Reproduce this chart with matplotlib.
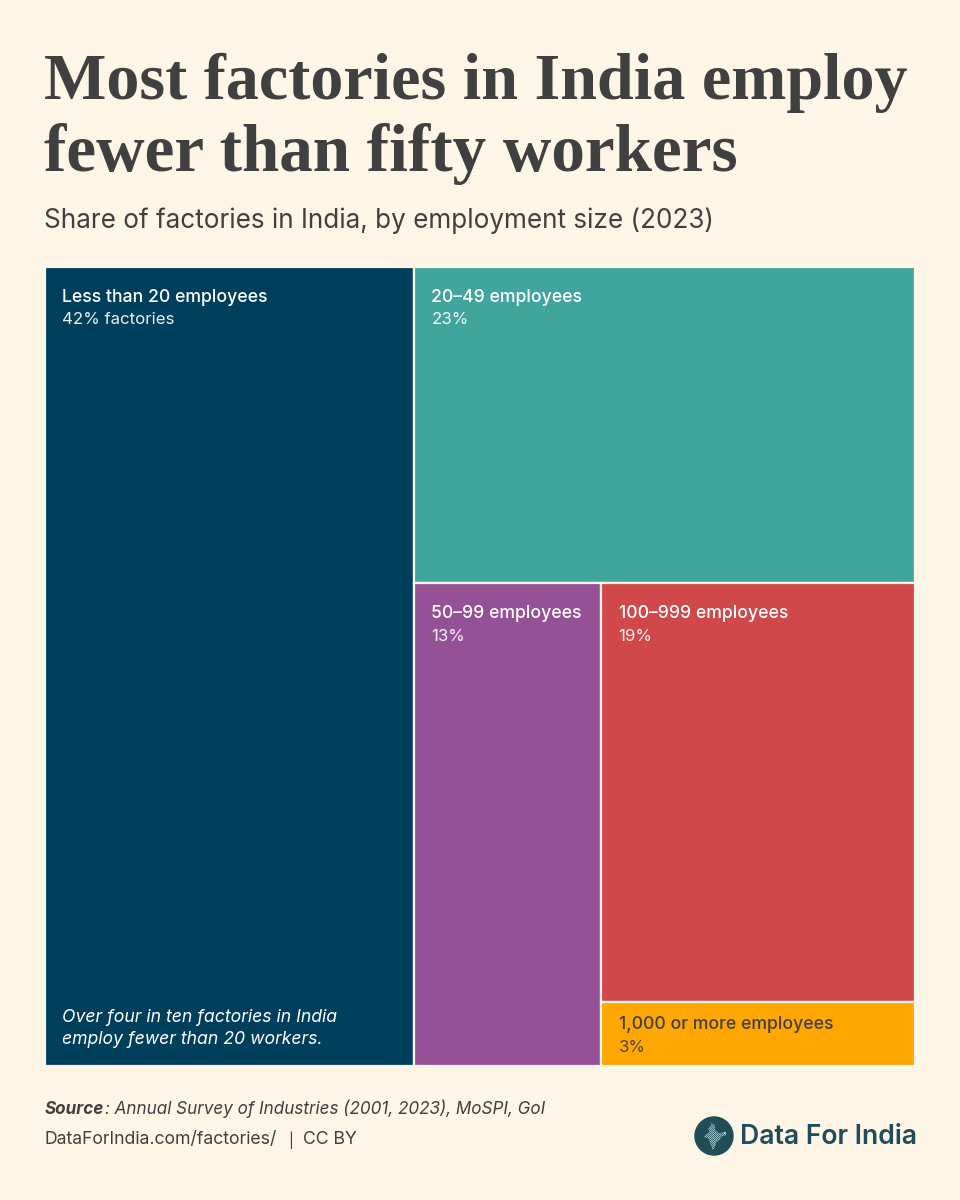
import matplotlib
matplotlib.use('Agg')
import matplotlib.pyplot as plt
from matplotlib.patches import Rectangle, Circle, Polygon

BG = '#fdf5e6'
DARK = '#404040'
LOGO = '#1f4e5a'

# shares, the printed labels are rounded
lt20 = 42.4
s20_49 = 22.8
s50_99 = 13.0
s100_999 = 18.9
s1000 = 2.9

names = ['Less than 20 employees', '20–49 employees', '50–99 employees',
         '100–999 employees', '1,000 or more employees']
shares = ['42% factories', '23%', '13%', '19%', '3%']
colors = ['#003f5c', '#41a49d', '#955196', '#d0484a', '#ffa600']
text_colors = ['white', 'white', 'white', 'white', DARK]

# rough outline of India for the logo, in logo-radius units
india_x = [-.42, -.22, -.3, -.12, -.2, .05, .05, .28, .62, .62, .4, .28, .12, .05, -.05, -.18, -.25, -.32, -.52]
india_y = [.08, .2, .38, .62, .72, .55, .32, .12, .22, .05, -.02, -.2, -.32, -.55, -.72, -.42, -.2, -.1, -.05]

plt.rcParams['font.family'] = ['Inter', 'DejaVu Sans']

fig = plt.figure(figsize=(9.6, 12), dpi=100, facecolor=BG)
ax = fig.add_axes([0, 0, 1, 1])
ax.set_xlim(0, 960)
ax.set_ylim(1200, 0)
ax.axis('off')

# treemap box
x0, y0, W, H = 45, 267, 870, 799
total = lt20 + s20_49 + s50_99 + s100_999 + s1000
w1 = W * lt20 / total
right = total - lt20
h2 = H * s20_49 / right
bottom = right - s20_49
w3 = (W - w1) * s50_99 / bottom
h4 = (H - h2) * s100_999 / (s100_999 + s1000)

rects = [
    (x0, y0, w1, H),
    (x0 + w1, y0, W - w1, h2),
    (x0 + w1, y0 + h2, w3, H - h2),
    (x0 + w1 + w3, y0 + h2, W - w1 - w3, h4),
    (x0 + w1 + w3, y0 + h2 + h4, W - w1 - w3, H - h2 - h4),
]

for i, (x, y, w, h) in enumerate(rects):
    ax.add_patch(Rectangle((x, y), w, h, facecolor=colors[i], edgecolor=BG, linewidth=1.6))
    # the thin last cell has less padding on top
    pad = 23 if h < 100 else 30
    ax.text(x + 17.5, y + pad, names[i], color=text_colors[i], fontsize=12.7, fontweight='medium', va='center')
    ax.text(x + 17.5, y + pad + 23, shares[i], color=text_colors[i], fontsize=12.15, va='center', alpha=0.92)

ax.text(62, 1017, 'Over four in ten factories in India', color='white', fontsize=12.7, style='italic', va='center')
ax.text(62, 1040, 'employ fewer than 20 workers.', color='white', fontsize=12.7, style='italic', va='center')

# headings
ax.text(44, 83, 'Most factories in India employ', color=DARK, fontsize=47.6,
        family='Liberation Serif', fontweight='bold', va='center')
ax.text(44, 154, 'fewer than fifty workers', color=DARK, fontsize=48.3,
        family='Liberation Serif', fontweight='bold', va='center')
ax.text(44, 221, 'Share of factories in India, by employment size (2023)', color=DARK, fontsize=18.8, va='center')

# footer
ax.text(45, 1109, 'Source', color=DARK, fontsize=12.3, style='italic', fontweight='bold', va='center')
ax.text(105, 1109, ': Annual Survey of Industries (2001, 2023), MoSPI, GoI', color=DARK, fontsize=12.3,
        style='italic', va='center')
ax.text(45, 1140, 'DataForIndia.com/factories/', color=DARK, fontsize=12.7, va='center')
ax.text(288, 1140, '|', color=DARK, fontsize=10.5, va='center')
ax.text(303, 1140, 'CC BY', color=DARK, fontsize=12.7, va='center')

# logo
cx, cy, r = 714, 1136, 19
ax.add_patch(Circle((cx, cy), r, color=LOGO))
shape = Polygon([(cx + a * r, cy - b * r) for a, b in zip(india_x, india_y)], closed=True,
                facecolor='#dfe8e6', edgecolor='none')
ax.add_patch(shape)
for k in range(-12, 13, 2):
    ln, = ax.plot([cx + k - 14, cx + k + 14], [cy - 14, cy + 14], color=LOGO, lw=0.6)
    ln.set_clip_path(shape)
ax.text(740, 1137, 'Data For India', color=LOGO, fontsize=19.1, fontweight='semibold', va='center')

fig.savefig('out.png', dpi=100, facecolor=BG)
